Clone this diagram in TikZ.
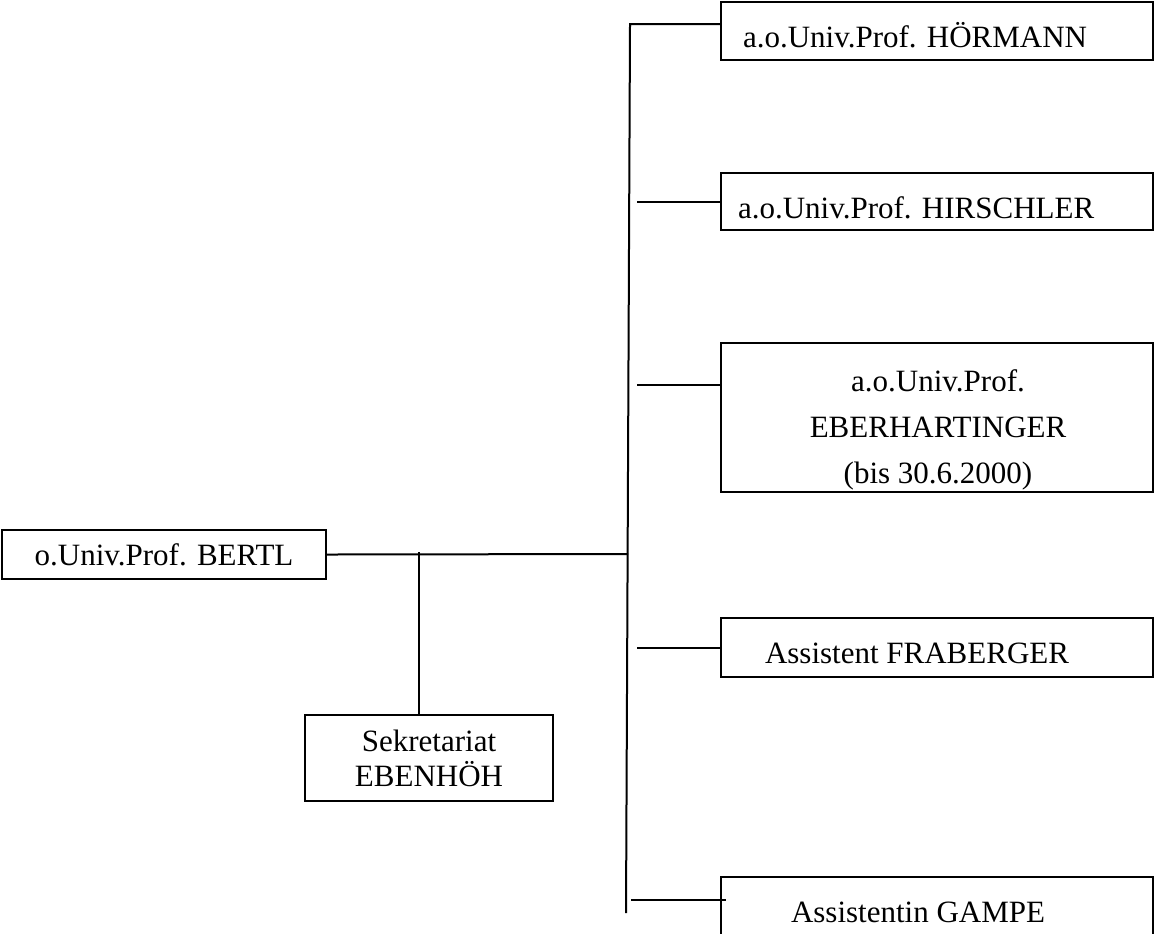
\documentclass[tikz,border=0pt]{standalone}
\usepackage{fontspec}
\setmainfont{Liberation Serif}

\tikzset{
  box/.style={draw, line width=1pt, inner sep=0pt, align=center},
  lbl/.style={anchor=base west, inner sep=0pt},
}

\begin{document}
\begin{tikzpicture}[x=0.5pt,y=-0.5pt,line width=1pt,font=\fontsize{15.5}{18}\selectfont]
	  \clip (0,0) rectangle (1159,933);

	  % right column: one-line boxes
	  \foreach \n/\y/\h/\tx/\ty/\t in {hoer/31/29/742/47/a.o.Univ.Prof. HÖRMANN,
	      hirsch/201.5/28.5/737/218/a.o.Univ.Prof. HIRSCHLER,
	      frab/647.5/29.5/764/663/Assistent FRABERGER,
	      gampe/906/29/790/922/Assistentin GAMPE}{
		\node[box, minimum width=216pt, minimum height=\h pt] (\n) at (937,\y) {};
		\node[lbl] (\n-txt) at (\tx,\ty) {\t};
	  }
	  \node[box, minimum width=216pt, minimum height=74.5pt] (eber) at (937,417.5) {};
	  \node[align=center, inner sep=0pt, font=\fontsize{15.5}{23}\selectfont] (eber-txt)
	        at (938,430) {a.o.Univ.Prof.\\EBERHARTINGER\\(bis 30.6.2000)};

	  % left side
	  \node[box, minimum width=162pt, minimum height=24.5pt] (bertl) at (164,554.5) {o.Univ.Prof. BERTL};
	  \node[box, minimum width=124pt, minimum height=43pt,
	        font=\fontsize{15.5}{17.5}\selectfont] (sekr) at (429,758) {Sekretariat\\EBENHÖH};

	  % bus and connectors
	  \coordinate (bustop) at (630,24);
	  \coordinate (busbot) at (626,913);
	  \coordinate (stub) at (637,0);
	  \coordinate (eber-in) at (637,385);
	  \coordinate (gampe-in) at (631,900);
	  \coordinate (bertl-in) at (628,554);
	  \coordinate (sekr-in) at (419,552);

	  \draw (busbot) -- (bustop) -- (bustop -| hoer.west);
	  \foreach \n in {hirsch,frab}
		\draw (stub |- \n.west) -- (\n.west);
	  \draw (eber-in) -- (eber-in -| eber.west);
	  \draw (gampe-in) -- ++(95,0);
	  \draw (bertl.east) -- (bertl-in);
	  \draw (sekr-in) -- (sekr-in |- sekr.north);
	\end{tikzpicture}
\end{document}
